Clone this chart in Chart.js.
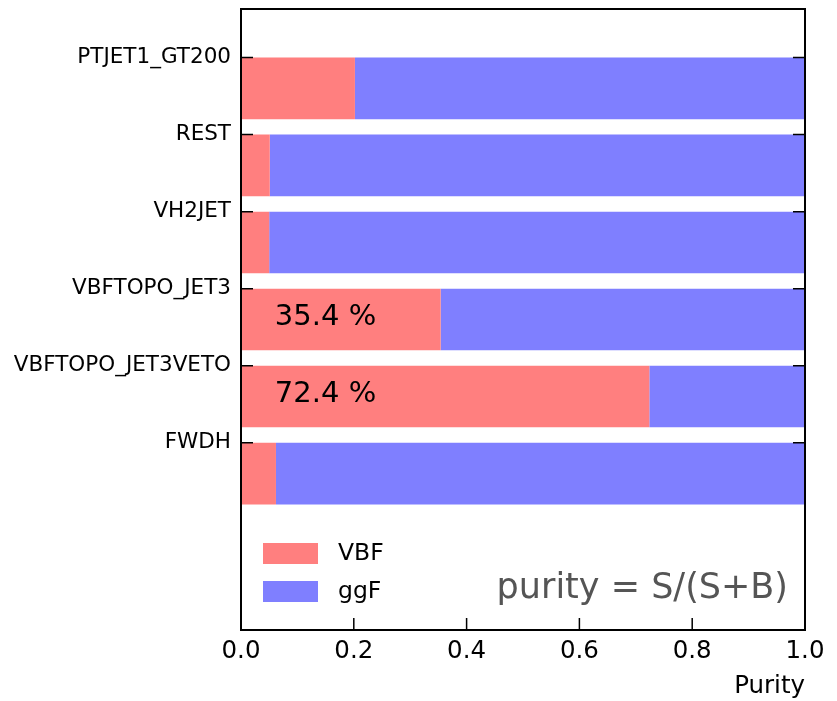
<!DOCTYPE html>
<html>
<head>
<meta charset="utf-8">
<script src="https://cdn.jsdelivr.net/npm/chart.js@4"></script>
<style>
  body { margin: 0; background: #fff; }
  #wrap { width: 837px; height: 701px; }
</style>
</head>
<body>
<div id="wrap"><canvas id="purityChart"></canvas></div>
<script>
const categories = ["PTJET1_GT200", "REST", "VH2JET", "VBFTOPO_JET3", "VBFTOPO_JET3VETO", "FWDH"];
const vbf = [0.202, 0.051, 0.050, 0.354, 0.724, 0.062];
const ggf = [0.798, 0.949, 0.950, 0.646, 0.276, 0.938];
const labelled = [3, 4];
const xTicks = [0, 0.2, 0.4, 0.6, 0.8, 1.0];

const RED = "rgb(255,127,127)";
const BLUE = "rgb(127,127,255)";
const FONT = "'DejaVu Sans', sans-serif";

// bars hang below their tick, like matplotlib align='edge'
const toPoints = vals => vals.map((v, i) => ({ x: v, y: i + 0.4 }));

const framePlugin = {
    id: "frame",
    afterDraw(chart) {
        const { ctx, chartArea: a, scales } = chart;
        ctx.save();

        // inside ticks
        ctx.strokeStyle = "#000";
        ctx.lineWidth = 1.5;
        ctx.beginPath();
        scales.y.ticks.forEach(t => {
            const y = scales.y.getPixelForValue(t.value);
            ctx.moveTo(a.left, y); ctx.lineTo(a.left + 12, y);
            ctx.moveTo(a.right, y); ctx.lineTo(a.right - 12, y);
        });
        scales.x.ticks.forEach(t => {
            const x = scales.x.getPixelForValue(t.value);
            ctx.moveTo(x, a.bottom); ctx.lineTo(x, a.bottom - 12);
        });
        ctx.stroke();

        ctx.lineWidth = 2;
        ctx.strokeRect(a.left, a.top, a.right - a.left, a.bottom - a.top);

        // percentages in the bars
        ctx.fillStyle = "#000";
        ctx.font = "29px " + FONT;
        ctx.textAlign = "left";
        ctx.textBaseline = "middle";
        labelled.forEach(i => {
            const txt = (vbf[i] * 100).toFixed(1) + " %";
            ctx.fillText(txt, scales.x.getPixelForValue(0.06), scales.y.getPixelForValue(i + 0.4) - 2);
        });

        // legend
        const ds = chart.data.datasets;
        ctx.font = "23.5px " + FONT;
        ds.forEach((d, k) => {
            const top = a.bottom - 87 + k * 38;
            ctx.fillStyle = d.backgroundColor;
            ctx.fillRect(a.left + 22, top, 55, 21);
            ctx.fillStyle = "#000";
            ctx.fillText(d.label, a.left + 97, top + 11);
        });

        ctx.fillStyle = "#555";
        ctx.font = "35px " + FONT;
        ctx.textAlign = "right";
        ctx.textBaseline = "alphabetic";
        ctx.fillText("purity = S/(S+B)", a.right - 17, a.bottom - 32);

        ctx.restore();
    }
};

new Chart(document.getElementById("purityChart"), {
    type: "bar",
    data: {
        datasets: [
            { label: "VBF", data: toPoints(vbf), backgroundColor: RED },
            { label: "ggF", data: toPoints(ggf), backgroundColor: BLUE }
        ]
    },
    options: {
        indexAxis: "y",
        animation: false,
        responsive: true,
        maintainAspectRatio: false,
        layout: { padding: { left: 0, right: 32, top: 9, bottom: 0 } },
        datasets: { bar: { categoryPercentage: 1, barPercentage: 0.8 } },
        plugins: { legend: { display: false }, tooltip: { enabled: false } },
        scales: {
            x: {
                type: "linear",
                stacked: true,
                min: 0,
                max: 1,
                afterBuildTicks: s => { s.ticks = xTicks.map(v => ({ value: v })); },
                afterFit: s => { s.height = 71; s.paddingLeft = 0; s.paddingRight = 0; },
                grid: { display: false, drawTicks: false },
                border: { display: false },
                ticks: {
                    padding: 7,
                    color: "#000",
                    font: { family: FONT, size: 24.5 },
                    callback: v => Number(v).toFixed(1)
                },
                title: {
                    display: true,
                    text: "Purity",
                    align: "end",
                    color: "#000",
                    font: { family: FONT, size: 24.5 },
                    padding: { top: 0, bottom: 0 }
                }
            },
            y: {
                type: "linear",
                stacked: true,
                reverse: true,
                offset: false,
                min: -0.63,
                max: 7.43,
                afterBuildTicks: s => { s.ticks = categories.map((_, i) => ({ value: i })); },
                afterFit: s => { s.width = 241; s.paddingTop = 0; s.paddingBottom = 0; },
                grid: { display: false, drawTicks: false },
                border: { display: false },
                ticks: {
                    padding: 10,
                    color: "#000",
                    font: { family: FONT, size: 21.5 },
                    callback: v => categories[v]
                }
            }
        }
    },
    plugins: [framePlugin]
});
</script>
</body>
</html>
